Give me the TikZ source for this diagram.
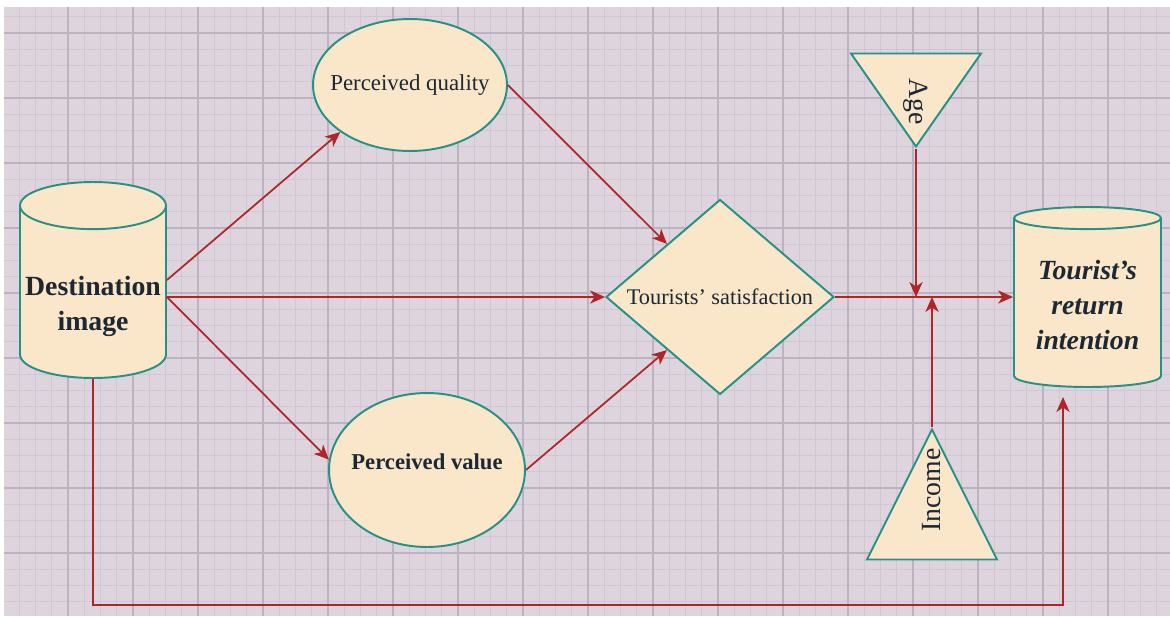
\documentclass[tikz,border=0pt]{standalone}
\usepackage{fontspec}
\setmainfont{Liberation Serif}
\usetikzlibrary{arrows.meta,positioning,calc,shapes.geometric}
\definecolor{paper}{RGB}{221,212,222}
\definecolor{gridminor}{RGB}{209,199,211}
\definecolor{gridmajor}{RGB}{189,178,192}
\definecolor{boxfill}{RGB}{250,230,200}
\definecolor{boxline}{RGB}{38,145,135}
\definecolor{arrowred}{RGB}{176,38,40}
\definecolor{ink}{RGB}{28,40,52}
\tikzset{
  block/.style={draw=boxline, fill=boxfill, line width=1.1pt, text=ink, inner sep=2pt},
  drum/.style={block, cylinder, shape border rotate=90, align=center,
               font=\fontsize{15.8}{19.5}\selectfont\bfseries},
  bubble/.style={block, ellipse, inner xsep=-1cm},
  wedge/.style={block, isosceles triangle, isosceles triangle stretches, inner ysep=-5pt,
                font=\fontsize{15.8}{19}\selectfont},
  flow/.style={-{Stealth[length=8.5pt, width=7.5pt, inset=2.5pt]}, color=arrowred, line width=1pt},
}

\begin{document}
\begin{tikzpicture}[x=0.02cm, y=-0.02cm]
  \useasboundingbox (0,0) rectangle (1170,616);
  % grid paper
  \fill[paper] (4,7) rectangle (1170,616);
  \foreach \x in {19.25,35.5,...,1170} \draw[gridminor, line width=0.5pt] (\x,7) -- (\x,616);
  \foreach \y in {16.75,33,...,616} \draw[gridminor, line width=0.5pt] (4,\y) -- (1170,\y);
  \foreach \x in {68,133,...,1170} \draw[gridmajor, line width=0.7pt] (\x,7) -- (\x,616);
  \foreach \y in {33,98,...,616} \draw[gridmajor, line width=0.7pt] (4,\y) -- (1170,\y);

  % constructs
  \node[drum, aspect=0.33, minimum width=2.92cm, minimum height=3.92cm, anchor=shape center]
    (di) at (93,280) {\rule{0pt}{23pt}Destination\\image};
  \node[bubble, minimum width=3.88cm, minimum height=2.64cm, font=\fontsize{13}{15}\selectfont]
    (pq) at (410,85) {Perceived quality};
  \node[bubble, minimum width=3.92cm, minimum height=3.08cm, font=\fontsize{12.9}{15}\selectfont\bfseries]
    (pv) at (427,470) {\rule[-9pt]{0pt}{9pt}Perceived value};
  \node[block, diamond, aspect=1.17, minimum width=4.56cm, minimum height=3.9cm,
        font=\fontsize{12.7}{15}\selectfont] (sat) at (720,297) {Tourists’ satisfaction};
  \node[wedge, rotate=-90, minimum width=2.6cm, minimum height=1.86cm, anchor=apex]
    (age) at (916,149) {\hspace*{7.5pt}Age};
  \node[wedge, rotate=90, minimum width=2.6cm, minimum height=2.6cm, anchor=apex]
    (inc) at (932,427) {\hspace*{10pt}Income};
  \node[drum, aspect=0.2, minimum width=2.94cm, minimum height=3.6cm, anchor=shape center,
        font=\fontsize{15.8}{20}\selectfont\bfseries\itshape]
    (tri) at (1087.5,297) {Tourist’s\\return\\intention};

  % paths
  \coordinate (loop) at (1063,397);
  \coordinate (lowrun) at (93,605);
  \draw[flow] (di.east |- di.shape center) -- (pq.214);
  \draw[flow] (di.east |- sat.west) -- (sat.west);
  \draw[flow] (di.east |- sat.west) -- (pv.174);
  \draw[flow] (pq.east) -- (sat.135);
  \draw[flow] (pv.east) -- (sat.225);
  \draw[flow] (sat.east) -- (sat.east -| tri.west);
  \draw[flow] (age.apex) -- (age.apex |- sat.east);
  \draw[flow] (inc.apex) -- (inc.apex |- sat.east);
  \draw[flow] (di.south) |- (loop |- lowrun) -- (loop);
\end{tikzpicture}
\end{document}
